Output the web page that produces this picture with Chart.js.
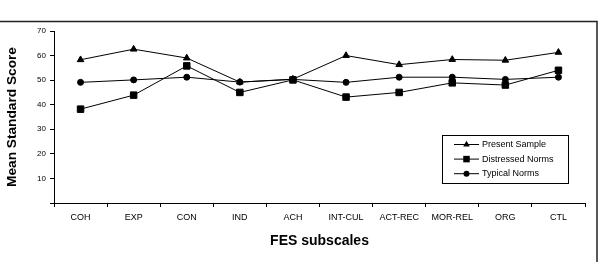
<!DOCTYPE html>
<html>
<head>
<meta charset="utf-8">
<script src="https://cdn.jsdelivr.net/npm/chart.js@4.4.1/dist/chart.umd.min.js"></script>
<style>
  html, body { margin: 0; padding: 0; background: #fff; }
  #wrap { position: relative; width: 598px; height: 262px; }
  canvas { display: block; }
</style>
</head>
<body>
<div id="wrap"><canvas id="c" width="598" height="262"></canvas></div>
<script>
const categories = ['COH', 'EXP', 'CON', 'IND', 'ACH', 'INT-CUL', 'ACT-REC', 'MOR-REL', 'ORG', 'CTL'];
const presentSample = [58.3, 62.6, 59, 49.2, 50.4, 60, 56.3, 58.4, 58.1, 61.3];
const distressedNorms = [38.2, 43.9, 55.8, 45, 50.1, 43.1, 45, 48.9, 48, 54];
const typicalNorms = [49.1, 50.1, 51.2, 49.2, 50.3, 49.1, 51.2, 51.2, 50.3, 51.2];
const seriesLabels = ['Present Sample', 'Distressed Norms', 'Typical Norms'];
const yTicks = [0, 10, 20, 30, 40, 50, 60, 70];

const FONT = "'Liberation Sans', Arial, sans-serif";

function drawMarker(ctx, style, r, x, y) {
  ctx.save();
  ctx.fillStyle = '#000';
  ctx.beginPath();
  if (style === 'triangle') {
    ctx.moveTo(x, y - r);
    ctx.lineTo(x + r * 0.866, y + r * 0.5);
    ctx.lineTo(x - r * 0.866, y + r * 0.5);
    ctx.closePath();
  } else if (style === 'rect') {
    const s = r * Math.SQRT1_2;
    ctx.rect(x - s, y - s, 2 * s, 2 * s);
  } else {
    ctx.arc(x, y, r, 0, Math.PI * 2);
  }
  ctx.fill();
  ctx.restore();
}

const framePlugin = {
  id: 'frame',
  afterDraw(chart) {
    const ctx = chart.ctx;
    ctx.save();
    ctx.strokeStyle = '#222';
    ctx.lineWidth = 1.5;
    ctx.beginPath();
    ctx.moveTo(0, 21.5);
    ctx.lineTo(597, 21.5);
    ctx.lineTo(597, 262);
    ctx.stroke();
    ctx.restore();
  }
};

const legendPlugin = {
  id: 'boxLegend',
  afterDatasetsDraw(chart) {
    const ctx = chart.ctx;
    ctx.save();
    ctx.strokeStyle = '#000';
    ctx.lineWidth = 1;
    ctx.strokeRect(442.5, 135.5, 126, 48);
    chart.data.datasets.forEach((ds, i) => {
      const y = 144 + i * 14.6;
      ctx.beginPath();
      ctx.strokeStyle = '#000';
      ctx.lineWidth = 1;
      ctx.moveTo(454, y + 0.5);
      ctx.lineTo(479, y + 0.5);
      ctx.stroke();
      drawMarker(ctx, ds.pointStyle, ds.pointRadius, 466.5, y + 0.5);
      ctx.fillStyle = '#000';
      ctx.font = '9px ' + FONT;
      ctx.textAlign = 'left';
      ctx.textBaseline = 'middle';
      ctx.fillText(ds.label, 482, y + 0.5);
    });
    ctx.restore();
  }
};

new Chart(document.getElementById('c'), {
  type: 'line',
  data: {
    labels: categories,
    datasets: [
      { label: seriesLabels[0], data: presentSample, pointStyle: 'triangle', pointRadius: 3.8 },
      { label: seriesLabels[1], data: distressedNorms, pointStyle: 'rect', pointRadius: 4.6 },
      { label: seriesLabels[2], data: typicalNorms, pointStyle: 'circle', pointRadius: 3 }
    ].map(d => Object.assign(d, {
      borderColor: '#000', backgroundColor: '#000', borderWidth: 1,
      pointBorderWidth: 1, pointBackgroundColor: '#000', pointBorderColor: '#000',
      tension: 0, fill: false
    }))
  },
  options: {
    responsive: false,
    animation: false,
    devicePixelRatio: 1,
    layout: { padding: { top: 31, right: 13, left: 0, bottom: 0 } },
    plugins: { legend: { display: false }, tooltip: { enabled: false } },
    scales: {
      x: {
        type: 'category',
        offset: true,
        grid: { offset: true, drawOnChartArea: false, drawTicks: true, tickLength: 4, color: '#000', lineWidth: 1 },
        border: { color: '#000', width: 1 },
        ticks: { color: '#000', font: { family: FONT, size: 9 }, padding: 5, maxRotation: 0, autoSkip: false },
        title: { display: true, text: 'FES subscales', color: '#000', font: { family: FONT, size: 14, weight: 'bold' }, padding: { top: 0, bottom: 12.6 } },
        afterFit(s) { s.height = 59; }
      },
      y: {
        min: 0, max: 70,
        afterBuildTicks(s) { s.ticks = yTicks.map(v => ({ value: v })); },
        grid: { drawOnChartArea: false, drawTicks: true, tickLength: 4, color: '#000', lineWidth: 1 },
        border: { color: '#000', width: 1 },
        ticks: { color: '#000', font: { family: FONT, size: 8 }, padding: 4, callback: v => v === 0 ? '' : String(v) },
        title: { display: true, text: 'Mean Standard Score', color: '#000', font: { family: FONT, size: 13.7, weight: 'bold' }, padding: { top: 4, bottom: 0 } },
        afterFit(s) { s.width = 54; }
      }
    }
  },
  plugins: [framePlugin, legendPlugin]
});
</script>
</body>
</html>
